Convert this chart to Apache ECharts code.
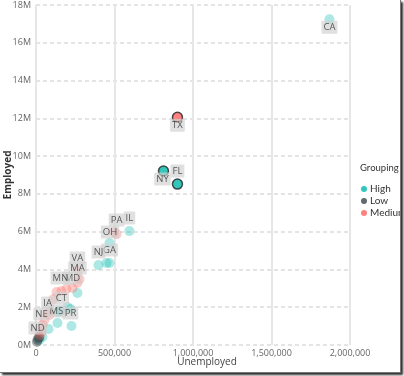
<!DOCTYPE html>
<html>
<head>
<meta charset="utf-8">
<script src="https://cdn.jsdelivr.net/npm/echarts@6/dist/echarts.min.js"></script>
<style>
  html, body { margin: 0; padding: 0; background: #fff; overflow: hidden; }
  .frame {
    position: absolute; left: 0; top: 0;
    width: 400px; height: 372px;
    background: #fff;
    box-shadow: 2px 2px 2px #2b2b2b;
    border-right: 1px solid #777;
    border-bottom: 1px solid #777;
  }
  #scatter_chart { width: 400px; height: 372px; }
</style>
</head>
<body>
<div class="frame"><div id="scatter_chart"></div></div>
<script>
// state, unemployed, employed per grouping
const highStates = ['CA', 'NY', 'FL', 'IL', 'GA', 'NJ', 'NC', 'MI', 'WA', 'AZ', 'TN', 'MS', 'SC', 'KY', 'PR', 'NV', 'RI', 'DE']
const highUnemployed = [1869000, 812000, 901000, 595000, 468000, 398000, 449000, 468000, 264000, 201000, 220000, 156000, 137000, 137000, 226000, 80000, 41000, 22000]
const highEmployed = [17250000, 9210000, 8520000, 6030000, 5400000, 4230000, 4340000, 4340000, 2750000, 2010000, 1900000, 1800000, 1750000, 1160000, 1005000, 850000, 420000, 260000]

const lowStates = ['ND', 'SD', 'VT', 'WY']
const lowUnemployed = [16000, 22000, 9500, 6400]
const lowEmployed = [370000, 420000, 260000, 160000]

const mediumStates = ['TX', 'OH', 'PA', 'VA', 'MA', 'WI', 'MD', 'MO', 'MN', 'CO', 'CT', 'IA', 'OR', 'NE', 'UT', 'ID', 'ME']
const mediumUnemployed = [901000, 497000, 513000, 264000, 277000, 264000, 232000, 194000, 162000, 131000, 111000, 80000, 86000, 54000, 41000, 35000, 22000]
const mediumEmployed = [12060000, 5980000, 5870000, 3970000, 3490000, 3280000, 3020000, 2960000, 2860000, 2800000, 2430000, 1750000, 1590000, 1320000, 1060000, 690000, 530000]

const yTicks = [0, 2e6, 4e6, 6e6, 8e6, 10e6, 12e6, 14e6, 16e6, 18e6]

// selected points drawn solid with a dark ring
const highlighted = ['TX', 'NY', 'FL']

// where each data label sits relative to its point
const labelOffset = {
  CA: [0, 8], TX: [0, 8], NY: [-1, 8], FL: [0, -13], IL: [0, -13],
  PA: [0, -14], OH: [-4, 0], GA: [0, 7], NJ: [0, -13],
  VA: [0, -12], MA: [-2, -11], MD: [0, -10], MN: [-1, -13],
  CT: [8, -1], IA: [-1, -9], NE: [-3, -6], MS: [-4, 0], PR: [-1, -13], ND: [-1, -10]
}

const colors = ['#01B8AA', '#374649', '#FD625E']
const fadedColors = ['rgba(1,184,170,0.4)', 'rgba(55,70,73,0.55)', 'rgba(253,98,94,0.4)']

function buildPoints(states, unemployed, employed, color) {
  return states.map((s, i) => {
    const item = {name: s, value: [unemployed[i], employed[i]]}
    if (highlighted.includes(s)) {
      item.itemStyle = {borderColor: '#222', borderWidth: 1.5, color: color}
    }
    if (labelOffset[s]) {
      item.label = {show: true, offset: labelOffset[s]}
    }
    return item
  })
}

const font = "'Segoe UI', 'Open Sans', sans-serif"

function makeSeries(name, data, faded) {
  return {
    name: name,
    type: 'scatter',
    symbolSize: 10,
    data: data,
    itemStyle: {color: faded},
    label: {
      show: false,
      position: 'inside',
      formatter: '{b}',
      color: '#333',
      fontFamily: font,
      fontSize: 9.5,
      backgroundColor: 'rgba(210,210,210,0.85)',
      padding: [2, 2, 1, 2],
      borderRadius: 1
    },
    emphasis: {disabled: true}
  }
}

const myChart = echarts.init(document.getElementById('scatter_chart'))

const option = {
  animation: false,
  color: colors,
  textStyle: {fontFamily: font},
  title: {
    text: 'Grouping',
    left: 355,
    top: 158,
    textStyle: {fontSize: 9.5, fontWeight: 'normal', color: '#333', fontFamily: 'Lato, sans-serif'}
  },
  legend: {
    orient: 'vertical',
    left: 356,
    top: 179,
    icon: 'circle',
    itemWidth: 6,
    itemHeight: 6,
    itemGap: 2,
    textStyle: {fontSize: 10, color: '#333', fontFamily: 'Lato, sans-serif', padding: [0, 0, 0, -2]},
    data: [
      {name: 'High', itemStyle: {color: colors[0]}},
      {name: 'Low', itemStyle: {color: colors[1]}},
      {name: 'Medium', itemStyle: {color: colors[2]}}
    ]
  },
  grid: {left: 36, right: 50, top: 5, bottom: 27, outerBoundsMode: 'none'},
  xAxis: {
    type: 'value',
    min: 0,
    max: 2000000,
    interval: 500000,
    name: 'Unemployed',
    nameLocation: 'middle',
    nameGap: 12,
    nameMoveOverlap: false,
    nameTextStyle: {fontSize: 10, color: '#444', padding: [0, 0, 0, 28]},
    axisLine: {show: false},
    axisTick: {show: false},
    axisLabel: {
      fontSize: 9,
      color: '#666',
      margin: 4,
      formatter: v => v.toLocaleString('en-US')
    },
    splitLine: {lineStyle: {color: '#e6e6e6', width: 2, type: 'solid'}}
  },
  yAxis: {
    type: 'value',
    min: yTicks[0],
    max: yTicks[yTicks.length - 1],
    interval: yTicks[1] - yTicks[0],
    name: 'Employed',
    nameLocation: 'middle',
    nameGap: 23,
    nameMoveOverlap: false,
    nameTextStyle: {fontSize: 10, color: '#333', fontWeight: 'bold'},
    axisLine: {show: false},
    axisTick: {show: false},
    axisLabel: {
      fontSize: 9,
      color: '#666',
      margin: 5,
      formatter: v => (v / 1e6) + 'M'
    },
    splitLine: {lineStyle: {color: '#dcdcdc', width: 1.5, type: [4, 3]}}
  },
  series: [
    makeSeries('High', buildPoints(highStates, highUnemployed, highEmployed, colors[0]), fadedColors[0]),
    makeSeries('Low', buildPoints(lowStates, lowUnemployed, lowEmployed, colors[1]), fadedColors[1]),
    makeSeries('Medium', buildPoints(mediumStates, mediumUnemployed, mediumEmployed, colors[2]), fadedColors[2])
  ]
}

myChart.setOption(option)
</script>
</body>
</html>
